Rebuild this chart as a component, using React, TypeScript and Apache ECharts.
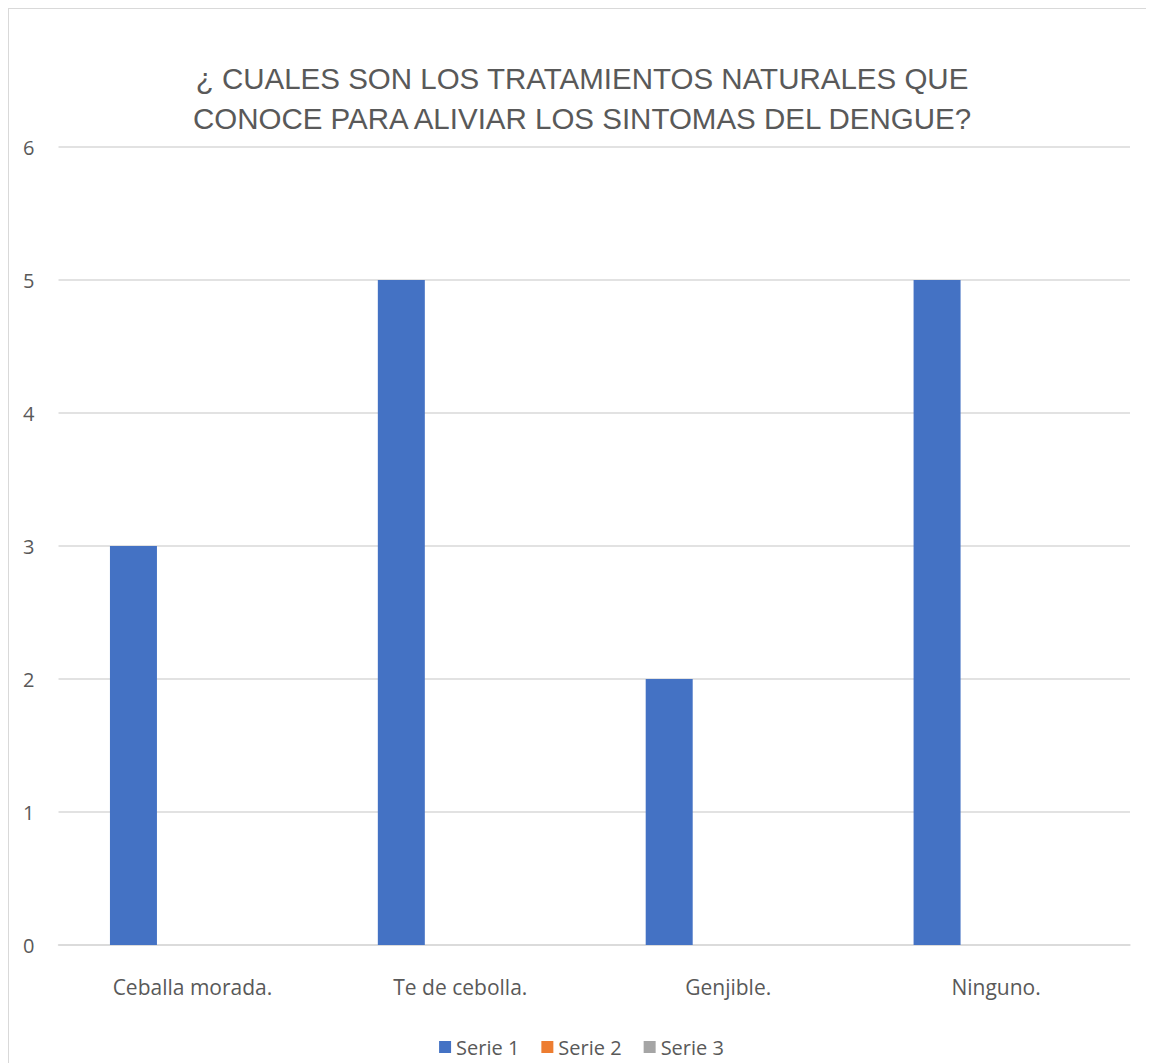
import React, { useEffect, useRef } from "react";
import * as echarts from "echarts";

const titleLines = [
  "¿ CUALES SON LOS TRATAMIENTOS NATURALES QUE",
  "CONOCE PARA ALIVIAR LOS SINTOMAS DEL DENGUE?",
];
const categories = ["Ceballa morada.", "Te de cebolla.", "Genjible.", "Ninguno."];
const seriesNames = ["Serie 1", "Serie 2", "Serie 3"];
const serie1 = [3, 5, 2, 5];
const serie2 = [0, 0, 0, 0];
const serie3 = [0, 0, 0, 0];
const seriesColors = ["#4472C4", "#ED7D31", "#A5A5A5"];

export default function App() {
  const ref = useRef<HTMLDivElement>(null);
  useEffect(() => {
    if (!ref.current) return;
    const chart = echarts.init(ref.current, undefined, { renderer: "svg" });
    const values = [serie1, serie2, serie3];
    chart.setOption({
      animation: false,
      backgroundColor: "#ffffff",
      title: {
        text: titleLines.join("\n"),
        left: 568,
        textAlign: "center",
        top: 44,
        textStyle: {
          fontFamily: "Liberation Sans, Arial, sans-serif",
          fontSize: 29.5,
          fontWeight: "normal",
          color: "#595959",
          lineHeight: 40,
        },
      },
      legend: {
        data: seriesNames,
        bottom: 1,
        left: "center",
        itemWidth: 12,
        itemHeight: 12,
        itemGap: 22,
        icon: "rect",
        textStyle: {
          fontFamily: "Open Sans, sans-serif",
          fontSize: 20,
          color: "#595959",
        },
      },
      grid: { left: 49.5, right: 24, top: 138, bottom: 118, containLabel: false },
      xAxis: {
        type: "category",
        data: categories,
        axisLine: { show: true, lineStyle: { color: "#d9d9d9", width: 1.5 } },
        axisTick: { show: false },
        axisLabel: {
          margin: 31,
          fontFamily: "Open Sans, sans-serif",
          fontSize: 21,
          color: "#595959",
        },
      },
      yAxis: {
        type: "value",
        min: 0,
        max: 6,
        interval: 1,
        axisLine: { show: false },
        axisTick: { show: false },
        splitLine: { lineStyle: { color: "#d9d9d9", width: 1.5 } },
        axisLabel: {
          margin: 24,
          fontFamily: "Open Sans, sans-serif",
          fontSize: 20,
          color: "#595959",
        },
      },
      series: seriesNames.map((name, i) => ({
        name,
        type: "bar",
        data: values[i],
        barWidth: 47,
        barGap: "25.5%",
        itemStyle: { color: seriesColors[i] },
      })),
    });
    return () => chart.dispose();
  }, []);
  return (
    <div style={{ width: 1145, height: 1054, border: "1px solid #d9d9d9" }}>
      <div ref={ref} style={{ width: 1145, height: 1054 }} />
    </div>
  );
}
